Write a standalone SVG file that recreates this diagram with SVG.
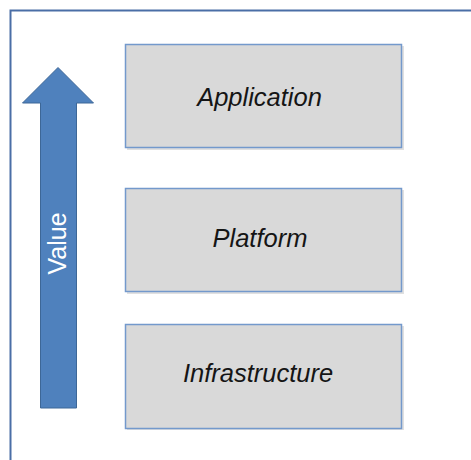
<svg xmlns="http://www.w3.org/2000/svg" width="471" height="460" viewBox="0 0 471 460">
<defs>
<style>
.box{fill:#d9d9d9;stroke:#7399cc;stroke-width:1.5}
.shadow{fill:#000;opacity:0.12}
.lbl{font-family:"Liberation Sans",Arial,sans-serif;font-style:italic;font-size:25.5px;fill:#151515;text-anchor:middle}
</style>
</defs>
<rect x="0" y="0" width="471" height="460" fill="#ffffff"/>
<g id="frame">
<rect x="10.5" y="10.5" width="480" height="480" fill="none" stroke="#4a6ea6" stroke-width="2"/>
</g>
<g id="connectors">
<g id="value-arrow">
<path d="M40.5,408 L40.5,103 L22.5,103 L58,67.5 L93.5,103 L76.5,103 L76.5,408 Z" fill="#4f81bd" stroke="#3d6797" stroke-width="1"/>
<text x="65.5" y="243.5" transform="rotate(-90 65.5 243.5)" font-family="'Liberation Sans',Arial,sans-serif" font-size="25" fill="#ffffff" text-anchor="middle">Value</text>
</g>
</g>
<g id="application">
<rect class="shadow" x="127" y="46" width="277" height="104"/>
<rect class="box" x="125.5" y="44.5" width="276" height="103"/>
<text class="lbl" x="259.5" y="105.5">Application</text>
</g>
<g id="platform">
<rect class="shadow" x="127" y="190" width="277" height="104"/>
<rect class="box" x="125.5" y="188.5" width="276" height="103"/>
<text class="lbl" x="260" y="246.5">Platform</text>
</g>
<g id="infrastructure">
<rect class="shadow" x="127" y="326" width="277" height="104"/>
<rect class="box" x="125.5" y="324.5" width="276" height="104"/>
<text class="lbl" x="258" y="381.5">Infrastructure</text>
</g>
</svg>
